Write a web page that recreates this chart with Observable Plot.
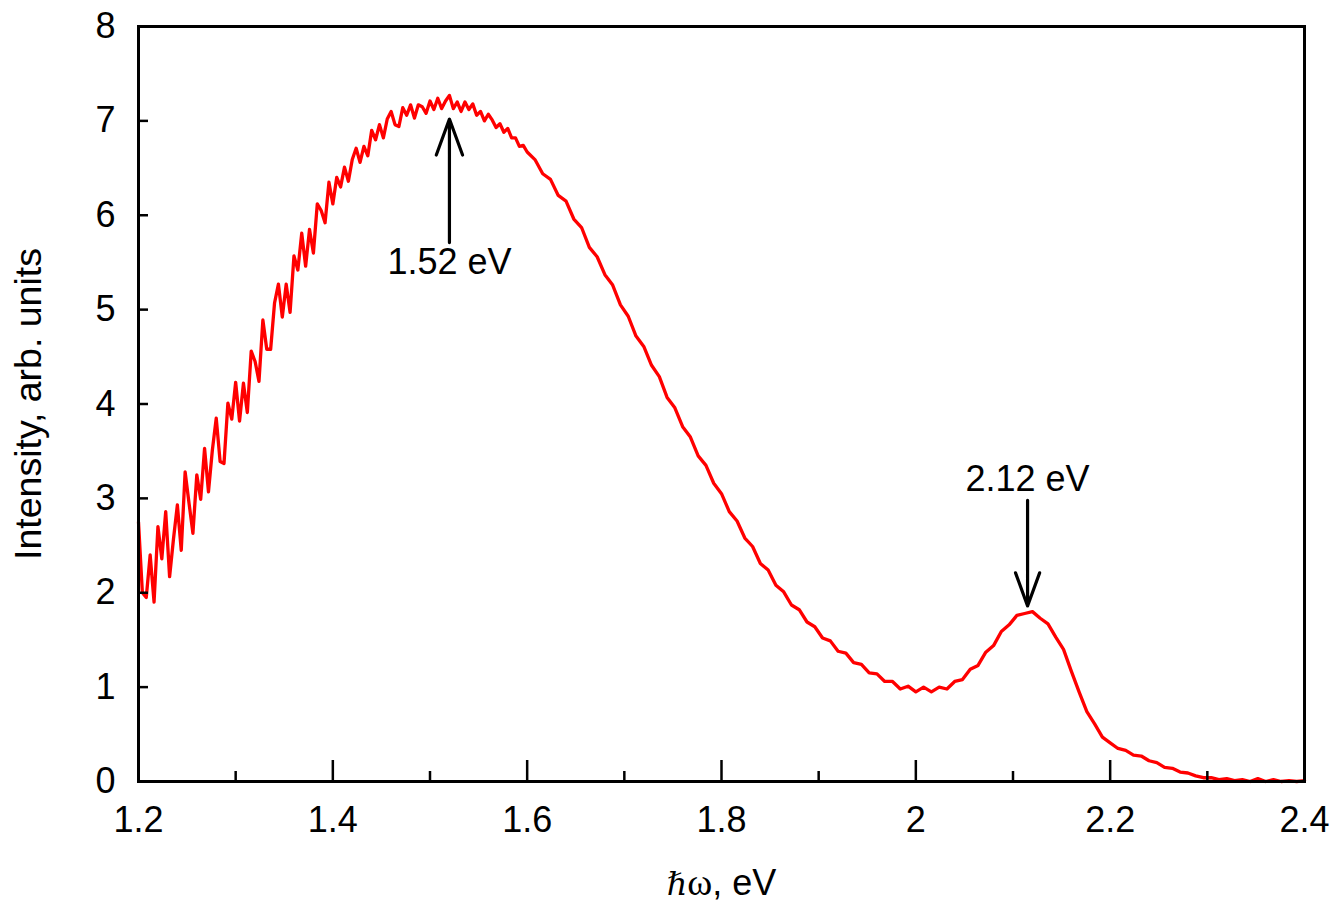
<!DOCTYPE html>
<html>
<head>
<meta charset="utf-8">
<script src="https://cdn.jsdelivr.net/npm/d3@7"></script>
<script src="https://cdn.jsdelivr.net/npm/@observablehq/plot@0.6"></script>
<style>
  html, body { margin: 0; padding: 0; background: white; }
  #chart { width: 1338px; height: 901px; }
</style>
</head>
<body>
<div id="chart"></div>
<script>
const energyA = d3.range(101).map(i => +(1.2 + i * 0.004).toFixed(3));
const intensityA = [
  2.75, 2.00, 1.95, 2.40, 1.90, 2.70, 2.36, 2.86, 2.17, 2.57,
  2.93, 2.45, 3.28, 2.95, 2.63, 3.25, 2.99, 3.53, 3.07, 3.51,
  3.85, 3.39, 3.37, 4.01, 3.84, 4.23, 3.82, 4.22, 3.91, 4.56,
  4.45, 4.24, 4.89, 4.58, 4.58, 5.07, 5.27, 4.92, 5.27, 4.97,
  5.57, 5.42, 5.81, 5.46, 5.85, 5.60, 6.12, 6.05, 5.92, 6.35,
  6.12, 6.40, 6.30, 6.51, 6.36, 6.59, 6.71, 6.56, 6.73, 6.63,
  6.90, 6.80, 6.96, 6.82, 7.02, 7.10, 6.96, 6.94, 7.14, 7.06,
  7.17, 7.03, 7.17, 7.15, 7.08, 7.21, 7.12, 7.24, 7.13, 7.21,
  7.27, 7.13, 7.20, 7.10, 7.20, 7.12, 7.18, 7.06, 7.10, 7.00,
  7.07, 7.01, 6.93, 6.97, 6.88, 6.92, 6.82, 6.82, 6.73, 6.74,
  6.67
];
const energyB = d3.range(100).map(i => +(1.608 + i * 0.008).toFixed(3));
const intensityB = [
  6.59, 6.44, 6.38, 6.21, 6.15, 5.96, 5.87, 5.66, 5.56, 5.37,
  5.26, 5.05, 4.93, 4.72, 4.61, 4.41, 4.29, 4.07, 3.96, 3.76,
  3.65, 3.45, 3.35, 3.16, 3.05, 2.86, 2.76, 2.58, 2.49, 2.31,
  2.24, 2.08, 2.01, 1.87, 1.82, 1.69, 1.64, 1.52, 1.49, 1.38,
  1.36, 1.26, 1.24, 1.15, 1.14, 1.06, 1.06, 0.98, 1.01, 0.95,
  1.00, 0.95, 1.00, 0.98, 1.06, 1.08, 1.19, 1.23, 1.37, 1.44,
  1.59, 1.66, 1.76, 1.78, 1.80, 1.73, 1.67, 1.53, 1.40, 1.17,
  0.95, 0.74, 0.61, 0.47, 0.41, 0.35, 0.33, 0.28, 0.27, 0.22,
  0.20, 0.15, 0.14, 0.10, 0.09, 0.06, 0.04, 0.04, 0.02, 0.03,
  0.01, 0.02, 0.00, 0.03, 0.00, 0.02, 0.00, 0.01, 0.00, 0.01
];

const xMajorTicks = [1.2, 1.4, 1.6, 1.8, 2, 2.2, 2.4];
const xMinorTicks = [1.3, 1.5, 1.7, 1.9, 2.1, 2.3];
const yTicks = [0, 1, 2, 3, 4, 5, 6, 7, 8];

// Peak annotations: arrow from tail to tip, label position
const peakEnergy = [1.52, 2.115];
const peakLabel = ["1.52 eV", "2.12 eV"];
const arrowTail = [5.71, 2.98];
const arrowTip = [7.02, 1.86];
const labelY = [5.5, 3.2];

const xLabel = "ℏω, eV";
const yLabel = "Intensity, arb. units";

const spectrum = [
  ...energyA.map((e, i) => ({energy: e, intensity: intensityA[i]})),
  ...energyB.map((e, i) => ({energy: e, intensity: intensityB[i]}))
];
const peaks = peakEnergy.map((e, i) => ({
  energy: e, label: peakLabel[i], tail: arrowTail[i], tip: arrowTip[i], ly: labelY[i]
}));

const font = "'Liberation Sans', Arial, Helvetica, sans-serif";

const chart = Plot.plot({
  width: 1338,
  height: 901,
  marginLeft: 138,
  marginRight: 34,
  marginTop: 26,
  marginBottom: 120,
  x: {domain: [1.2, 2.4]},
  y: {domain: [0, 8]},
  style: {fontFamily: font, fontSize: "36px", color: "black", background: "white", overflow: "visible"},
  marks: [
    Plot.line(spectrum, {x: "energy", y: "intensity", stroke: "#ff0000", strokeWidth: 3.3, curve: "linear"}),
    Plot.frame({stroke: "black", strokeWidth: 3}),
    Plot.axisX(xMajorTicks, {tickSize: -21, tickPadding: 46, strokeWidth: 2.5, label: null, tickFormat: d => String(d), fontSize: 36}),
    Plot.axisX(xMinorTicks, {tickSize: -10, text: null, strokeWidth: 2.5, label: null}),
    Plot.axisY(yTicks, {tickSize: -10, tickPadding: 33, strokeWidth: 2.5, label: null, tickFormat: d => String(d), fontSize: 36}),
    Plot.arrow(peaks, {x1: "energy", y1: "tail", x2: "energy", y2: "tip", stroke: "black", strokeWidth: 3.2, headLength: 18, headAngle: 40}),
    Plot.text(peaks, {x: "energy", y: "ly", text: "label", fontSize: 36, lineAnchor: "middle"}),
    Plot.text([yLabel], {frameAnchor: "left", rotate: -90, dx: -110, fontSize: 37.5, textAnchor: "middle", lineAnchor: "middle"}),
    Plot.text([xLabel], {frameAnchor: "bottom", dy: 102, fontSize: 36, lineAnchor: "middle"})
  ]
});

document.getElementById("chart").appendChild(chart);

// Style the x-axis title: italic h-bar and serif omega
d3.select(chart).selectAll("text").each(function() {
  if (this.textContent === xLabel) {
    const t = d3.select(this);
    t.text(null);
    t.append("tspan").attr("font-family", "'DejaVu Serif', 'Liberation Serif', serif").attr("font-style", "italic").attr("font-size", 32).text("ℏ");
    t.append("tspan").attr("font-family", "'Liberation Serif', 'DejaVu Serif', serif").attr("font-size", 38).text("ω");
    t.append("tspan").text(", eV");
  }
});
</script>
</body>
</html>
